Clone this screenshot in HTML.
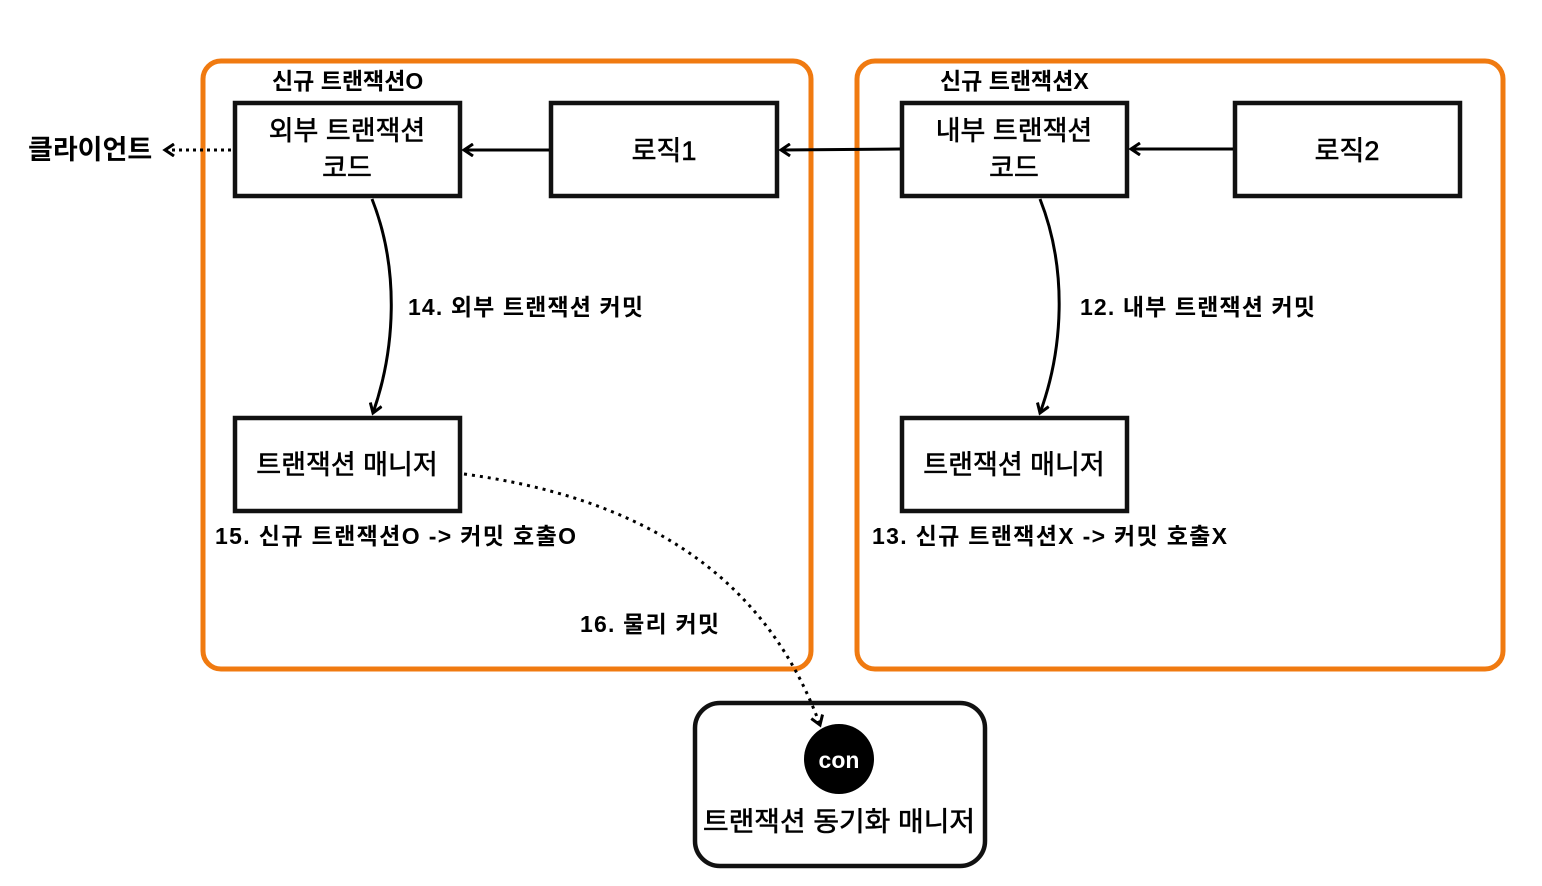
<!DOCTYPE html>
<html><head><meta charset="utf-8"><style>body{margin:0;background:#fff}</style></head><body>
<svg width="1542" height="881" xmlns="http://www.w3.org/2000/svg" font-family="Liberation Sans, Noto Sans CJK KR, sans-serif">
<defs>
<marker id="a" markerWidth="14" markerHeight="14" refX="11" refY="7" orient="auto" markerUnits="userSpaceOnUse"><path d="M2,1 L11,7 L2,13" fill="none" stroke="#000" stroke-width="3"/></marker>
</defs>
<rect x="203" y="61" width="608" height="608" rx="18" fill="none" stroke="#f07a10" stroke-width="5"/>
<rect x="857" y="61" width="646" height="608" rx="18" fill="none" stroke="#f07a10" stroke-width="5"/>
<g fill="none" stroke="#111" stroke-width="4.5">
<rect x="235" y="103" width="225" height="93"/>
<rect x="551" y="103" width="226" height="93"/>
<rect x="902" y="103" width="225" height="93"/>
<rect x="1235" y="103" width="225" height="93"/>
<rect x="235" y="418" width="225" height="93"/>
<rect x="902" y="418" width="225" height="93"/>
<rect x="695" y="703" width="290" height="163" rx="25"/>
</g>
<g stroke="#000" stroke-width="3" fill="none">
<line x1="549" y1="150" x2="464" y2="150" marker-end="url(#a)"/>
<line x1="900" y1="149" x2="781" y2="150" marker-end="url(#a)"/>
<line x1="1233" y1="149" x2="1131" y2="149" marker-end="url(#a)"/>
<line x1="231" y1="150" x2="165" y2="150" stroke-dasharray="3,4" marker-end="url(#a)"/>
<path d="M372,199 C400,270 395,350 373,413" marker-end="url(#a)"/>
<path d="M1040,199 C1068,270 1063,350 1040,413" marker-end="url(#a)"/>
<path d="M464,474 C620,495 760,560 820,725" stroke-dasharray="3,5" marker-end="url(#a)"/>
</g>
<circle cx="839" cy="759" r="35" fill="#000"/>
<text x="839" y="768" font-size="23" fill="#fff" text-anchor="middle" font-weight="bold">con</text>
<g font-size="27" text-anchor="middle" fill="#000" stroke="#000" stroke-width="0.6">
<text x="347" y="140">외부 트랜잭션</text><text x="347" y="177">코드</text>
<text x="664" y="160">로직1</text>
<text x="1014" y="140">내부 트랜잭션</text><text x="1014" y="177">코드</text>
<text x="1347" y="160">로직2</text>
<text x="347" y="474">트랜잭션 매니저</text>
<text x="1014" y="474">트랜잭션 매니저</text>
<text x="839" y="831" textLength="272" lengthAdjust="spacingAndGlyphs">트랜잭션 동기화 매니저</text>
</g>
<g font-size="23" font-weight="bold" fill="#000">
<text x="272" y="89">신규 트랜잭션O</text>
<text x="940" y="89">신규 트랜잭션X</text>
<text x="28" y="159" font-size="27">클라이언트</text>
<text x="408" y="315" textLength="235">14. 외부 트랜잭션 커밋</text>
<text x="1080" y="315" textLength="235">12. 내부 트랜잭션 커밋</text>
<text x="215" y="544" textLength="361">15. 신규 트랜잭션O -&gt; 커밋 호출O</text>
<text x="872" y="544" textLength="355">13. 신규 트랜잭션X -&gt; 커밋 호출X</text>
<text x="580" y="632" textLength="139">16. 물리 커밋</text>
</g>
</svg>
</body></html>
